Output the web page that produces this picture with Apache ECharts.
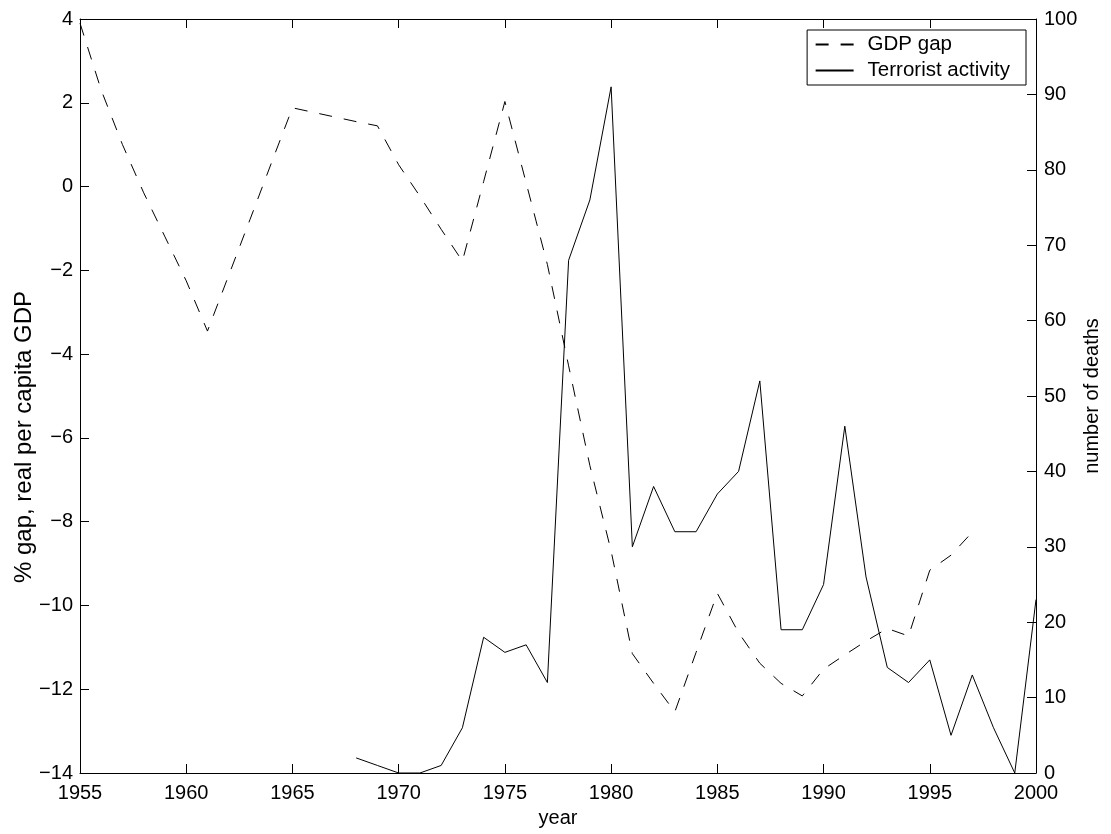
<!DOCTYPE html>
<html>
<head>
<meta charset="utf-8">
<script src="https://cdn.jsdelivr.net/npm/echarts@6/dist/echarts.min.js"></script>
<style>
html,body{margin:0;padding:0;background:#fff;}
#chart{width:1111px;height:834px;}
</style>
</head>
<body>
<div id="chart"></div>
<script>
const years = [1955,1956,1957,1958,1959,1960,1961,1962,1963,1964,1965,1966,1967,1968,1969,1970,1971,1972,1973,1974,1975,1976,1977,1978,1979,1980,1981,1982,1983,1984,1985,1986,1987,1988,1989,1990,1991,1992,1993,1994,1995,1996,1997,1998,1999,2000];
const gdpGap = [3.9,2.3,1.0,-0.15,-1.2,-2.25,-3.45,-2.12,-0.79,0.55,1.88,1.77,1.66,1.55,1.45,0.52,-0.23,-1.02,-1.78,0.12,2.03,0.09,-1.86,-4.28,-6.66,-8.7,-11.15,-11.86,-12.54,-11.12,-9.71,-10.65,-11.38,-11.86,-12.16,-11.52,-11.18,-10.85,-10.55,-10.73,-9.16,-8.8,-8.25,null,null,null];
const deaths = [null,null,null,null,null,null,null,null,null,null,null,null,null,2,1,0,0,1,6,18,16,17,12,68,76,91,30,38,32,32,37,40,52,19,19,25,46,26,14,12,15,5,13,6,0,23];
const leftTicks = {min:-14, max:4, interval:2};
const rightTicks = {min:0, max:100, interval:10};
const xTicks = {min:1955, max:2000, interval:5};
const seriesNames = ['GDP gap','Terrorist activity'];
const axisNames = {x:'year', left:'% gap, real per capita GDP', right:'number of deaths'};

const FONT = 'Liberation Sans, Arial, Helvetica, sans-serif';
const FS = 20;
const chart = echarts.init(document.getElementById('chart'), null, {renderer:'canvas'});
const pair = (arr) => years.map((y,i) => [y, arr[i]]);
const minus = v => String(v).replace('-', '\u2212');
const plain = v => String(v);
const axisLineStyle = {show:true, onZero:false, lineStyle:{color:'#000', width:1}};
const tickStyle = {show:true, inside:true, length:9, lineStyle:{color:'#000', width:1}};

chart.setOption({
  animation:false,
  backgroundColor:'#fff',
  textStyle:{fontFamily:FONT, color:'#000'},
  grid:{left:80, right:75, top:19, bottom:61, containLabel:false, outerBoundsMode:'none'},
  legend:{
    orient:'vertical', right:85, top:30,
    data:seriesNames,
    backgroundColor:'#fff', borderColor:'#000', borderWidth:1,
    padding:[4,16,4,7.5], itemGap:5, itemWidth:38, itemHeight:20,
    itemStyle:{opacity:0},
    textStyle:{fontFamily:FONT, fontSize:20.5, color:'#000', padding:[0,0,0,9]}
  },
  xAxis:[{
    type:'value', position:'bottom', min:xTicks.min, max:xTicks.max, interval:xTicks.interval,
    axisLine:axisLineStyle, axisTick:tickStyle, splitLine:{show:false},
    axisLabel:{fontFamily:FONT, fontSize:FS, color:'#000', margin:10, formatter:plain},
    name:axisNames.x, nameLocation:'middle', nameGap:35, nameMoveOverlap:false,
    nameTextStyle:{fontFamily:FONT, fontSize:FS, color:'#000'}
  },{
    type:'value', position:'top', min:xTicks.min, max:xTicks.max, interval:xTicks.interval,
    axisLine:axisLineStyle, axisTick:tickStyle, splitLine:{show:false},
    axisLabel:{show:false}
  }],
  yAxis:[{
    type:'value', position:'left', min:leftTicks.min, max:leftTicks.max, interval:leftTicks.interval,
    axisLine:axisLineStyle, axisTick:tickStyle, splitLine:{show:false},
    axisLabel:{fontFamily:FONT, fontSize:FS, color:'#000', margin:7, formatter:minus},
    name:axisNames.left, nameLocation:'middle', nameGap:44, nameRotate:90, nameMoveOverlap:false,
    nameTextStyle:{fontFamily:FONT, fontSize:24, color:'#000', padding:[0,82,0,0]}
  },{
    type:'value', position:'right', min:rightTicks.min, max:rightTicks.max, interval:rightTicks.interval,
    axisLine:axisLineStyle, axisTick:tickStyle, splitLine:{show:false},
    axisLabel:{fontFamily:FONT, fontSize:FS, color:'#000', margin:8},
    name:axisNames.right, nameLocation:'middle', nameGap:46, nameRotate:90, nameMoveOverlap:false,
    nameTextStyle:{fontFamily:FONT, fontSize:FS, color:'#000'}
  }],
  series:[{
    name:seriesNames[0], type:'line', xAxisIndex:0, yAxisIndex:0,
    data:pair(gdpGap), showSymbol:false, symbol:'none', connectNulls:false,
    lineStyle:{color:'#000', width:1, type:[13,12]}, itemStyle:{color:'#000'}
  },{
    name:seriesNames[1], type:'line', xAxisIndex:0, yAxisIndex:1,
    data:pair(deaths), showSymbol:false, symbol:'none', connectNulls:false,
    lineStyle:{color:'#000', width:1, type:'solid'}, itemStyle:{color:'#000'}
  }]
});
</script>
</body>
</html>
